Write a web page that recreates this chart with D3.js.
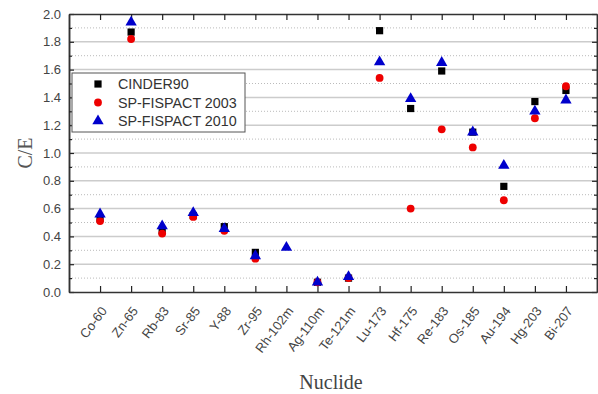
<!DOCTYPE html>
<html>
<head>
<meta charset="utf-8">
<script src="https://cdn.jsdelivr.net/npm/d3@7"></script>
<style>
  body { margin: 0; background: #fff; }
  svg { display: block; }
</style>
</head>
<body>
<div id="chart"></div>
<script>
const nuclides = ['Co-60','Zn-65','Rb-83','Sr-85','Y-88','Zr-95','Rh-102m','Ag-110m','Te-121m',
  'Lu-173','Hf-175','Re-183','Os-185','Au-194','Hg-203','Bi-207'];
const cinder90 = [0.53,1.87,0.44,0.55,0.47,0.285,null,0.07,0.10,1.88,1.32,1.59,1.15,0.76,1.37,1.45];
const fispact2003 = [0.51,1.82,0.42,0.54,0.44,0.24,null,0.07,0.10,1.54,0.60,1.17,1.04,0.66,1.25,1.48];
const fispact2010 = [0.56,1.94,0.475,0.57,0.455,0.26,0.32,0.07,0.11,1.655,1.39,1.65,1.15,0.91,1.30,1.38];
const yTicks = [0,0.2,0.4,0.6,0.8,1.0,1.2,1.4,1.6,1.8,2.0];

const width = 598, height = 394;
const margin = {top: 14, right: 1, bottom: 102, left: 69};

const svg = d3.select('#chart').append('svg')
  .attr('width', width).attr('height', height);

const x = d3.scalePoint()
  .domain(nuclides)
  .range([margin.left, width - margin.right])
  .padding(1);

const y = d3.scaleLinear()
  .domain([0, 2])
  .range([height - margin.bottom, margin.top]);

const x0 = margin.left, x1 = width - margin.right;
const y0 = height - margin.bottom, y1 = margin.top;

// grid
const minor = d3.range(0.1, 2, 0.2);
svg.append('g').selectAll('line').data(minor).join('line')
  .attr('x1', x0).attr('x2', x1)
  .attr('y1', d => y(d)).attr('y2', d => y(d))
  .attr('stroke', '#bbb').attr('stroke-width', 1).attr('stroke-dasharray', '1,2');
svg.append('g').selectAll('line').data(yTicks.slice(1, -1)).join('line')
  .attr('x1', x0).attr('x2', x1)
  .attr('y1', d => y(d)).attr('y2', d => y(d))
  .attr('stroke', '#ccc').attr('stroke-width', 1.5);

// axes
const tickFont = 'Arial, "Liberation Sans", sans-serif';
const leftAx = svg.append('g').attr('transform', `translate(${x0},0)`)
  .call(d3.axisLeft(y).tickValues(yTicks).tickFormat(d3.format('.1f')).tickSizeInner(-5).tickSizeOuter(0).tickPadding(8));
const rightAx = svg.append('g').attr('transform', `translate(${x1},0)`)
  .call(d3.axisRight(y).tickValues(yTicks).tickFormat('').tickSizeInner(-5).tickSizeOuter(0));
const leftMinor = svg.append('g').attr('transform', `translate(${x0},0)`)
  .call(d3.axisLeft(y).tickValues(minor).tickFormat('').tickSizeInner(-3).tickSizeOuter(0));
const rightMinor = svg.append('g').attr('transform', `translate(${x1},0)`)
  .call(d3.axisRight(y).tickValues(minor).tickFormat('').tickSizeInner(-3).tickSizeOuter(0));
const bottomAx = svg.append('g').attr('transform', `translate(0,${y0})`)
  .call(d3.axisBottom(x).tickSizeInner(-6).tickSizeOuter(0));
const topAx = svg.append('g').attr('transform', `translate(0,${y1})`)
  .call(d3.axisTop(x).tickFormat('').tickSizeInner(-6).tickSizeOuter(0));

[leftAx, rightAx, leftMinor, rightMinor, bottomAx, topAx].forEach(g => {
  g.select('.domain').attr('stroke', '#333').attr('stroke-width', 1.5);
  g.selectAll('.tick line').attr('stroke', '#222').attr('stroke-width', 1.2);
});

leftAx.selectAll('text').attr('font-family', tickFont).attr('font-size', 13).attr('fill', '#444');
bottomAx.selectAll('text')
  .attr('font-family', tickFont).attr('font-size', 13).attr('fill', '#444')
  .attr('text-anchor', 'end').attr('dy', 0).attr('y', 0)
  .attr('transform', 'translate(7,19) rotate(-53)');

// axis titles
svg.append('text')
  .attr('transform', `translate(32,${(y0 + y1) / 2}) rotate(-90)`)
  .attr('text-anchor', 'middle')
  .attr('font-family', '"Liberation Serif", "DejaVu Serif", serif')
  .attr('font-size', 20).attr('fill', '#555')
  .text('C/E');
svg.append('text')
  .attr('x', 331).attr('y', 389)
  .attr('text-anchor', 'middle')
  .attr('font-family', '"Liberation Serif", "DejaVu Serif", serif')
  .attr('font-size', 20).attr('fill', '#444')
  .text('Nuclide');

// series
const series = [
  {name: 'CINDER90', values: cinder90, color: '#000', shape: d3.symbolSquare, size: 52},
  {name: 'SP-FISPACT 2003', values: fispact2003, color: '#e00', shape: d3.symbolCircle, size: 48},
  {name: 'SP-FISPACT 2010', values: fispact2010, color: '#00c', shape: d3.symbolTriangle, size: 56}
];

series.forEach(s => {
  const sym = d3.symbol().type(s.shape).size(s.size);
  svg.append('g').selectAll('path')
    .data(nuclides.map((n, i) => ({n, v: s.values[i]})).filter(d => d.v != null))
    .join('path')
    .attr('d', sym)
    .attr('transform', d => `translate(${x(d.n)},${y(d.v)})`)
    .attr('fill', s.color);
});

// legend
const lg = svg.append('g').attr('transform', 'translate(72,73)');
lg.append('rect').attr('width', 173).attr('height', 59)
  .attr('fill', '#fff').attr('stroke', '#555').attr('stroke-width', 1);
series.forEach((s, i) => {
  const row = lg.append('g').attr('transform', `translate(0,${11 + i * 18.5})`);
  row.append('path').attr('d', d3.symbol().type(s.shape).size(s.size)())
    .attr('transform', 'translate(26,0)').attr('fill', s.color);
  row.append('text').attr('x', 46).attr('y', 0).attr('dy', '0.36em')
    .attr('font-family', tickFont).attr('font-size', 14.3).attr('fill', '#333')
    .text(s.name);
});
</script>
</body>
</html>
